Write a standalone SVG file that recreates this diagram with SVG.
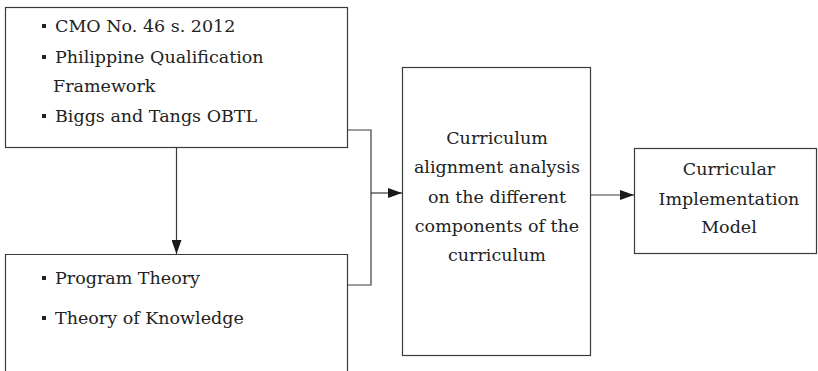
<svg xmlns="http://www.w3.org/2000/svg" width="818" height="371" viewBox="0 0 818 371">
<style>
.box{fill:#fff;stroke:#3a3a3a;stroke-width:1.2}
.t{font-family:'DejaVu Serif','Liberation Serif',serif;font-size:17.5px;fill:#222}
.c{text-anchor:middle}
.ln{fill:none;stroke:#3a3a3a;stroke-width:1.2}
</style>
<defs>
<marker id="ah" viewBox="0 0 14 10" refX="14" refY="5" markerWidth="14" markerHeight="10" markerUnits="userSpaceOnUse" orient="auto">
<path d="M0,0 L14,5 L0,10 Z" fill="#1a1a1a"/>
</marker>
</defs>
<rect width="818" height="371" fill="#fff"/>
<g id="connectors">
<line class="ln" x1="176.5" y1="148" x2="176.5" y2="254" marker-end="url(#ah)"/>
<polyline class="ln" points="347,130 371,130 371,285 347,285"/>
<line class="ln" x1="371" y1="193" x2="402" y2="193" marker-end="url(#ah)"/>
<line class="ln" x1="591" y1="195" x2="634" y2="195" marker-end="url(#ah)"/>
</g>
<g id="sources">
<rect class="box" x="5.5" y="7.5" width="342" height="140"/>
<rect x="42" y="24" width="4" height="4" fill="#222"/>
<text class="t" x="55" y="32">CMO No. 46 s. 2012</text>
<rect x="42" y="55" width="4" height="4" fill="#222"/>
<text class="t" x="55" y="63">Philippine Qualification</text>
<text class="t" x="53" y="92">Framework</text>
<rect x="42" y="114" width="4" height="4" fill="#222"/>
<text class="t" x="55" y="122">Biggs and Tangs OBTL</text>
</g>
<g id="theories">
<path class="box" d="M5.5,380 V254.5 H347.5 V380"/>
<rect x="42" y="276" width="4" height="4" fill="#222"/>
<text class="t" x="55" y="284">Program Theory</text>
<rect x="42" y="316" width="4" height="4" fill="#222"/>
<text class="t" x="55" y="324">Theory of Knowledge</text>
</g>
<g id="analysis">
<rect class="box" x="402.5" y="67.5" width="188" height="288"/>
<text class="t c" x="497" y="144">Curriculum</text>
<text class="t c" x="497" y="173">alignment analysis</text>
<text class="t c" x="497" y="203">on the different</text>
<text class="t c" x="497" y="232">components of the</text>
<text class="t c" x="497" y="261">curriculum</text>
</g>
<g id="model">
<rect class="box" x="634.5" y="148.5" width="182" height="105"/>
<text class="t c" x="729" y="175">Curricular</text>
<text class="t c" x="729" y="205">Implementation</text>
<text class="t c" x="729" y="233">Model</text>
</g>
</svg>
